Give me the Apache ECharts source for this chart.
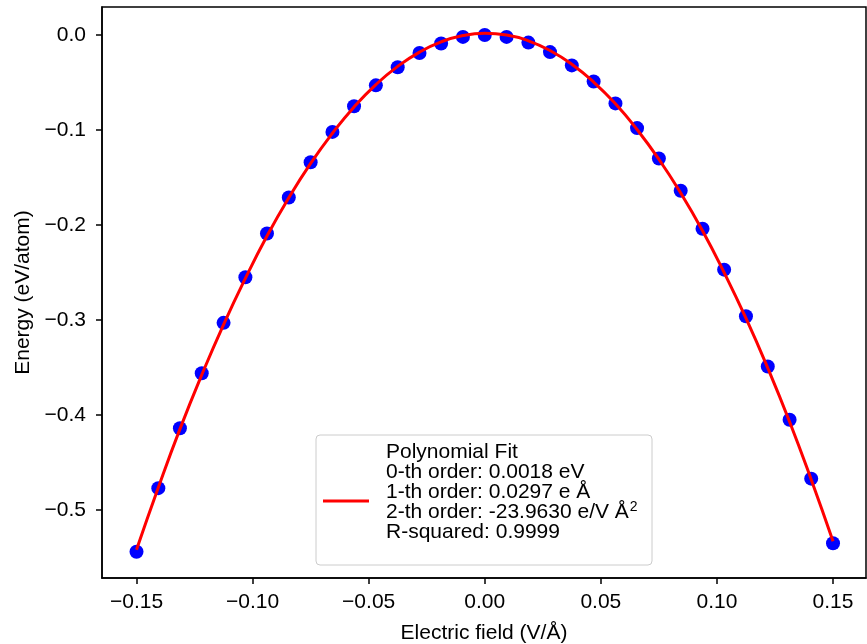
<!DOCTYPE html>
<html>
<head>
<meta charset="utf-8">
<script src="https://cdn.jsdelivr.net/npm/echarts@6/dist/echarts.min.js"></script>
<style>
html,body{margin:0;padding:0;background:#fff;}
#chart{width:867px;height:644px;}
</style>
</head>
<body>
<div id="chart"></div>
<script>
// Electric field (V/Å)
const fieldValues = [-0.15, -0.1406, -0.1313, -0.1219, -0.1125, -0.1031, -0.0938, -0.0844, -0.075, -0.0656, -0.0563, -0.0469, -0.0375, -0.0281, -0.0188, -0.0094, 0,
  0.0094, 0.0188, 0.0281, 0.0375, 0.0469, 0.0563, 0.0656, 0.075, 0.0844, 0.0938, 0.1031, 0.1125, 0.1219, 0.1313, 0.1406, 0.15];
// Energy (eV/atom), data points
const energyValues = [-0.544, -0.477, -0.414, -0.356, -0.303, -0.255, -0.209, -0.171, -0.134, -0.102, -0.075, -0.053, -0.034, -0.019, -0.009, -0.002, 0.000,
  -0.002, -0.008, -0.018, -0.032, -0.049, -0.072, -0.098, -0.130, -0.164, -0.204, -0.247, -0.296, -0.349, -0.405, -0.467, -0.535];
// Polynomial fit curve
const fitValues = [-0.5418, -0.4763, -0.4149, -0.3578, -0.3048, -0.2561, -0.2116, -0.1713, -0.1352, -0.1034, -0.0757, -0.0522, -0.0330, -0.0180, -0.0072, -0.0006, 0.0018,
  0.0000, -0.0061, -0.0163, -0.0308, -0.0495, -0.0724, -0.0995, -0.1308, -0.1663, -0.2060, -0.2500, -0.2981, -0.3505, -0.4071, -0.4679, -0.5329];
const xTicks = [-0.15, -0.10, -0.05, 0.00, 0.05, 0.10, 0.15];
const yTicks = [0.0, -0.1, -0.2, -0.3, -0.4, -0.5];
const legendLines = [
  'Polynomial Fit',
  '0-th order: 0.0018 eV',
  '1-th order: 0.0297 e Å',
  '2-th order: -23.9630 e/V Å{sup|2}',
  'R-squared: 0.9999'
];

const FONT = "'Liberation Sans', Arial, Helvetica, sans-serif";
const fmt = (v, d) => { let s = Math.abs(v) < 1e-9 ? (0).toFixed(d) : v.toFixed(d); return s.replace('-', '\u2212'); };

const chart = echarts.init(document.getElementById('chart'), null, {renderer: 'canvas'});
chart.setOption({
  backgroundColor: '#ffffff',
  animation: false,
  textStyle: {fontFamily: FONT},
  grid: {left: 102, right: 1, top: 7, bottom: 66, containLabel: false, outerBoundsMode: 'none',
         show: true, borderColor: '#000', borderWidth: 1.5, backgroundColor: 'transparent'},
  xAxis: {
    type: 'value', min: -0.16486, max: 0.16421,
    name: 'Electric field (V/Å)', nameLocation: 'middle', nameGap: 45,
    nameTextStyle: {fontSize: 21, color: '#000', fontFamily: FONT},
    axisLine: {show: true, onZero: false, lineStyle: {color: '#000', width: 1.5}},
    axisTick: {show: true, inside: false, customValues: xTicks, length: 6, lineStyle: {color: '#000', width: 1.5}},
    axisLabel: {customValues: xTicks, formatter: v => fmt(v, 2), fontSize: 21, color: '#000', margin: 14, fontFamily: FONT},
    splitLine: {show: false}
  },
  yAxis: {
    type: 'value', min: -0.57158, max: 0.02947,
    name: 'Energy (eV/atom)', nameLocation: 'middle', nameGap: 67, nameRotate: 90,
    nameTextStyle: {fontSize: 21, color: '#000', fontFamily: FONT},
    axisLine: {show: true, onZero: false, lineStyle: {color: '#000', width: 1.5}},
    axisTick: {show: true, inside: false, customValues: yTicks, length: 6, lineStyle: {color: '#000', width: 1.5}},
    axisLabel: {customValues: yTicks, formatter: v => fmt(v, 1), fontSize: 21, color: '#000', margin: 16, fontFamily: FONT},
    splitLine: {show: false}
  },
  series: [
    {
      name: 'Data', type: 'scatter', z: 2,
      symbol: 'circle', symbolSize: 14,
      itemStyle: {color: '#0000ff', opacity: 1},
      data: fieldValues.map((x, i) => [x, energyValues[i]])
    },
    {
      name: 'Polynomial Fit', type: 'line', z: 3, smooth: true,
      showSymbol: false, symbol: 'none',
      lineStyle: {color: '#ff0000', width: 3},
      data: fieldValues.map((x, i) => [x, fitValues[i]])
    }
  ],
  graphic: [
    {type: 'rect', z: 100, shape: {x: 316, y: 435, width: 336, height: 130, r: 4},
     style: {fill: 'rgba(255,255,255,0.85)', stroke: '#cccccc', lineWidth: 1}},
    {type: 'line', z: 101, shape: {x1: 323, y1: 501, x2: 369, y2: 501},
     style: {stroke: '#ff0000', lineWidth: 3}},
    {type: 'text', z: 101, x: 386, y: 442,
     style: {text: legendLines.join('\n'), fontSize: 21, fontFamily: FONT, fill: '#000', lineHeight: 20,
       rich: {sup: {fontSize: 14, fontFamily: FONT, fill: '#000', padding: [0, 0, 9, 1], lineHeight: 20}}}}
  ]
});
</script>
</body>
</html>
